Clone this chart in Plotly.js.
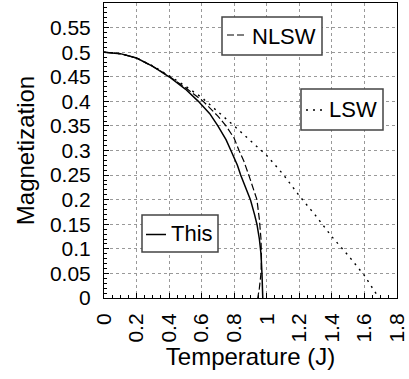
<!DOCTYPE html>
<html><head><meta charset="utf-8">
<script src="https://cdn.plot.ly/plotly-3.0.1.min.js"></script>
<style>html,body{margin:0;padding:0;background:#fff}#chart{width:409px;height:379px}</style>
</head><body><div id="chart"></div>
<script>
// "This" curve
const thisT = [0,0.1,0.2,0.3,0.4,0.5,0.58,0.65,0.7,0.75,0.78,0.82,0.84,0.87,0.9,0.925,0.94,0.955,0.965,0.971,0.976];
const thisM = [0.5,0.497,0.488,0.471,0.45,0.425,0.4,0.375,0.35,0.322,0.3,0.27,0.25,0.225,0.2,0.17,0.15,0.12,0.09,0.05,0];
// NLSW curve
const nlswT = [0,0.1,0.2,0.3,0.4,0.5,0.61,0.7,0.75,0.8,0.83,0.86,0.89,0.92,0.94,0.955,0.965,0.968,0.965,0.955,0.945];
const nlswM = [0.5,0.497,0.488,0.471,0.451,0.428,0.4,0.37,0.35,0.325,0.3,0.278,0.25,0.22,0.2,0.16,0.12,0.08,0.05,0.02,0];
// LSW curve
const lswT = [0,0.1,0.2,0.3,0.4,0.5,0.6,0.7,0.8,0.9,1.0,1.1,1.2,1.3,1.4,1.5,1.6,1.69];
const lswM = [0.5,0.497,0.488,0.472,0.452,0.431,0.408,0.38,0.35,0.32,0.29,0.252,0.208,0.168,0.125,0.087,0.046,0];

const seriesNames = ['This','NLSW','LSW'];
const xTicks = [0,0.2,0.4,0.6,0.8,1,1.2,1.4,1.6,1.8];
const yTicks = [0,0.05,0.1,0.15,0.2,0.25,0.3,0.35,0.4,0.45,0.5,0.55];

const fam = '"Liberation Sans", Arial, Helvetica, sans-serif';
const f = (s) => ({family:fam, size:s, color:'#000'});

const styles = [
  {color:'#000', width:1.5, dash:'solid'},
  {color:'#000', width:1.2, dash:'7px,3px'},
  {color:'#000', width:1.4, dash:'2px,5px'}
];

const traces = [
  {x:thisT, y:thisM, mode:'lines', name:seriesNames[0], line:styles[0]},
  {x:nlswT, y:nlswM, mode:'lines', name:seriesNames[1], line:styles[1]},
  {x:lswT, y:lswM, mode:'lines', name:seriesNames[2], line:styles[2]}
];

// plot area in pixels: x 104..397, y 3..298
const PL = 104, PW = 293, PT = 3, PH = 295;
const px = (v) => (v - PL) / PW;
const py = (v) => (PT + PH - v) / PH;

// legend boxes (pixel geometry): [left, right, top, bottom, lineStart, lineEnd, lineY, textRight]
const boxes = [
  [142, 218, 215, 252, 146, 166, 234.5, 214],
  [222, 322, 17, 55, 227, 246, 35, 317],
  [301, 383, 89, 130, 306, 326, 110, 378]
];
const shapes = [];
boxes.forEach((b, i) => {
  shapes.push({type:'rect', xref:'paper', yref:'paper', x0:px(b[0]), x1:px(b[1]), y0:py(b[3]), y1:py(b[2]),
    fillcolor:'#fff', line:{color:'#444', width:1.5}, layer:'above'});
  shapes.push({type:'line', xref:'paper', yref:'paper', x0:px(b[4]), x1:px(b[5]), y0:py(b[6]), y1:py(b[6]),
    line:styles[i], layer:'above'});
});
const annotations = boxes.map((b, i) => ({
  xref:'paper', yref:'paper', x:px(b[7]), y:py((b[2]+b[3])/2),
  xanchor:'right', yanchor:'middle', showarrow:false,
  text:seriesNames[i], font:f(22), borderpad:0
}));

const axisBase = {showline:true, linecolor:'#000', linewidth:1, mirror:true,
  showgrid:true, gridcolor:'#999', griddash:'dot', gridwidth:1,
  zeroline:false, ticks:'inside', ticklen:5, tickcolor:'#000',
  tickfont:f(21)};

const layout = {
  width:409, height:379,
  margin:{l:PL, r:409-PL-PW, t:PT, b:379-PT-PH},
  paper_bgcolor:'#fff', plot_bgcolor:'#fff',
  font:f(18),
  showlegend:false,
  xaxis:Object.assign({}, axisBase, {
    range:[0,1.801], tickvals:xTicks, ticktext:xTicks.map(String), tickangle:-90,
    ticklabelstandoff:6, ticklabeloverflow:'allow',
    minor:{ticks:'inside', ticklen:3, dtick:0.05, tickcolor:'#000', showgrid:false},
    title:{text:'Temperature (J)', font:f(24), standoff:2}
  }),
  yaxis:Object.assign({}, axisBase, {
    range:[0,0.6], tickvals:yTicks, ticktext:yTicks.map(String),
    minor:{ticks:'inside', ticklen:3, dtick:0.01, tickcolor:'#000', showgrid:false},
    ticklabelstandoff:8,
    title:{text:'Magnetization', font:f(24), standoff:8}
  }),
  annotations:annotations,
  shapes:shapes
};

Plotly.newPlot('chart', traces, layout, {displayModeBar:false, staticPlot:true});
</script>
</body></html>
